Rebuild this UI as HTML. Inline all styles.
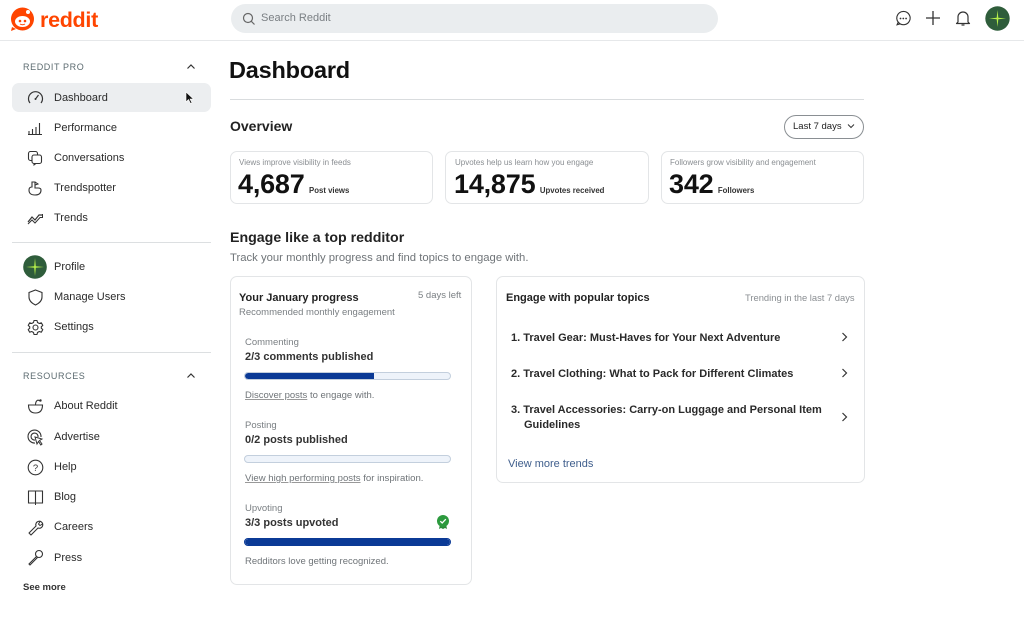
<!DOCTYPE html>
<html><head><meta charset="utf-8">
<style>
*{margin:0;padding:0;box-sizing:border-box}
body{width:1024px;height:643px;background:#fff;font-family:"Liberation Sans",Arial,sans-serif;color:#1a1a1b;position:relative;overflow:hidden}
.a{position:absolute;white-space:nowrap}
.side{font-size:11px;color:#2a2a2a;line-height:14px}
.ic{position:absolute}
.card{position:absolute;border:1px solid #e3e5e7;border-radius:7px;background:#fff}
.g{color:#6f7478}
.bar{position:absolute;left:244px;width:207px;height:8px;border-radius:4px;background:#eef3fa;border:1px solid #c3cfdd;overflow:hidden}
.fill{height:100%;background:#0b3a96;border-radius:4px 0 0 4px}
.u{text-decoration:underline;text-decoration-color:#999}
.t{font-size:11px;font-weight:bold;color:#2a2a2a;line-height:15px}
</style></head><body>

<!-- header -->
<div class="a" style="left:0;top:40px;width:1024px;height:1px;background:#e6e8ea"></div>
<svg class="ic" style="left:10px;top:7px" width="26" height="25" viewBox="0 0 26 25">
<circle cx="12.5" cy="12" r="11.5" fill="#ff4500"/>
<path d="M2 20 L1 24 L6 22 Z" fill="#ff4500"/>
<ellipse cx="12.5" cy="14.5" rx="7.5" ry="5.5" fill="#fff"/>
<circle cx="10" cy="14" r="1.3" fill="#ff4500"/><circle cx="15" cy="14" r="1.3" fill="#ff4500"/>
<path d="M10 17 Q12.5 18.5 15 17" stroke="#ff4500" stroke-width="1" fill="none"/>
<circle cx="18" cy="5" r="2" fill="#fff"/>
</svg>
<div class="a" style="left:40px;top:7px;font-size:21.5px;font-weight:bold;color:#ff4500;letter-spacing:-0.3px;line-height:26px">reddit</div>

<div class="a" style="left:231px;top:4px;width:487px;height:29px;border-radius:15px;background:#eaedef"></div>
<svg class="ic" style="left:242px;top:12px" width="14" height="14" viewBox="0 0 14 14"><circle cx="6" cy="6" r="4.5" stroke="#666" stroke-width="1.2" fill="none"/><path d="M9.3 9.3 L12.5 12.5" stroke="#666" stroke-width="1.2"/></svg>
<div class="a" style="left:261px;top:11px;font-size:11px;color:#7a7f83;line-height:14px">Search Reddit</div>

<svg class="ic" style="left:895px;top:10px" width="17" height="17" viewBox="0 0 17 17"><path d="M8.5 1.5 A7 7 0 1 1 3 12.8 L1.8 15.5 L5 14.6 A7 7 0 0 1 8.5 1.5" stroke="#333" stroke-width="1.2" fill="none" transform="scale(0.95) translate(0.4,0)"/><circle cx="5.5" cy="8.5" r="0.9" fill="#333"/><circle cx="8.3" cy="8.5" r="0.9" fill="#333"/><circle cx="11.1" cy="8.5" r="0.9" fill="#333"/></svg>
<svg class="ic" style="left:925px;top:10px" width="16" height="16" viewBox="0 0 16 16"><path d="M8 1 V15 M1 8 H15" stroke="#333" stroke-width="1.3"/></svg>
<svg class="ic" style="left:955px;top:9px" width="16" height="18" viewBox="0 0 16 18"><path d="M3 13 V8 A5 5 0 0 1 13 8 V13 L14.5 14.5 H1.5 Z" stroke="#333" stroke-width="1.2" fill="none" stroke-linejoin="round"/><path d="M6.5 16 H9.5" stroke="#333" stroke-width="1.2"/></svg>
<svg class="ic" style="left:985px;top:6px" width="25" height="25" viewBox="0 0 25 25"><circle cx="12.5" cy="12.5" r="12.2" fill="#2f5d3b"/><path d="M12.5 4 L13.3 11.7 L21 12.5 L13.3 13.3 L12.5 21 L11.7 13.3 L4 12.5 L11.7 11.7 Z" fill="#b6ef4a"/></svg>

<!-- sidebar -->
<div class="a" style="left:23px;top:61px;font-size:9px;color:#5c6b70;letter-spacing:0.6px;line-height:12px">REDDIT PRO</div>
<svg class="ic" style="left:186px;top:63px" width="10" height="7" viewBox="0 0 10 7"><path d="M1.5 5.5 L5 2 L8.5 5.5" stroke="#333" stroke-width="1.2" fill="none"/></svg>
<div class="a" style="left:12px;top:83px;width:199px;height:29px;border-radius:7px;background:#eceef0"></div>
<svg class="ic" style="left:185px;top:91px" width="10" height="14" viewBox="0 0 10 14"><path d="M1 1 L1 11 L3.5 8.5 L5.5 12.5 L7 11.8 L5 8 L8.5 8 Z" fill="#111" stroke="#fff" stroke-width="0.6"/></svg>

<svg class="ic" style="left:27px;top:90px" width="17" height="15" viewBox="0 0 17 15"><path d="M3 13 A7 7 0 1 1 14 13" stroke="#333" stroke-width="1.2" fill="none"/><path d="M8.5 9 L11.5 5" stroke="#333" stroke-width="1.2"/><circle cx="8.5" cy="9" r="1" fill="#333"/></svg>
<div class="a side" style="left:54px;top:91px">Dashboard</div>
<svg class="ic" style="left:27px;top:120px" width="16" height="15" viewBox="0 0 16 15"><path d="M2 14 V11 M5.5 14 V9 M9 14 V7 M12.5 14 V3 M1 14.5 H15" stroke="#333" stroke-width="1.1"/></svg>
<div class="a side" style="left:54px;top:121px">Performance</div>
<svg class="ic" style="left:27px;top:150px" width="16" height="16" viewBox="0 0 16 16"><rect x="1.5" y="1.5" width="9" height="9" rx="2" stroke="#333" stroke-width="1.1" fill="none"/><rect x="5" y="5" width="9.5" height="8.5" rx="2" stroke="#333" stroke-width="1.1" fill="#fff"/><path d="M7 13.5 L7 15 L9 13.5" stroke="#333" stroke-width="1" fill="none"/></svg>
<div class="a side" style="left:54px;top:151px">Conversations</div>
<svg class="ic" style="left:27px;top:180px" width="16" height="16" viewBox="0 0 16 16"><path d="M2 10 Q2 15 8 15 Q14 15 14 10 Q14 8 11 8 L8 8 L8 2 L5 2 L5 7 Q2 7 2 10 Z" stroke="#333" stroke-width="1.1" fill="none"/><path d="M8 2 L11 4 L8 5" stroke="#333" stroke-width="1" fill="none"/></svg>
<div class="a side" style="left:54px;top:181px">Trendspotter</div>
<svg class="ic" style="left:27px;top:211px" width="17" height="14" viewBox="0 0 17 14"><path d="M1 11 L5 6 L8 9 L12 4 L15 4" stroke="#333" stroke-width="1.2" fill="none"/><path d="M1 13 L5 9 L8 12 L13 6.5 L15.5 6.5 L15.5 3" stroke="#333" stroke-width="1" fill="none"/></svg>
<div class="a side" style="left:54px;top:211px">Trends</div>

<div class="a" style="left:12px;top:242px;width:199px;height:1px;background:#dcdfe1"></div>
<svg class="ic" style="left:23px;top:255px" width="24" height="24" viewBox="0 0 24 24"><circle cx="12" cy="12" r="11.8" fill="#2f5d3b"/><path d="M12 3 L12.8 11.2 L21 12 L12.8 12.8 L12 21 L11.2 12.8 L3 12 L11.2 11.2 Z" fill="#b6ef4a"/></svg>
<div class="a side" style="left:54px;top:260px">Profile</div>
<svg class="ic" style="left:28px;top:289px" width="15" height="17" viewBox="0 0 15 17"><path d="M7.5 1 L14 3.5 V8 Q14 13 7.5 16 Q1 13 1 8 V3.5 Z" stroke="#333" stroke-width="1.1" fill="none"/></svg>
<div class="a side" style="left:54px;top:290px">Manage Users</div>
<svg class="ic" style="left:27px;top:319px" width="17" height="17" viewBox="0 0 17 17"><circle cx="8.5" cy="8.5" r="2.5" stroke="#333" stroke-width="1.1" fill="none"/><path d="M7 1.5 H10 L10.5 3.5 L12.3 4.5 L14.3 3.8 L15.8 6.4 L14.3 7.8 V9.2 L15.8 10.6 L14.3 13.2 L12.3 12.5 L10.5 13.5 L10 15.5 H7 L6.5 13.5 L4.7 12.5 L2.7 13.2 L1.2 10.6 L2.7 9.2 V7.8 L1.2 6.4 L2.7 3.8 L4.7 4.5 L6.5 3.5 Z" stroke="#333" stroke-width="1.1" fill="none" stroke-linejoin="round"/></svg>
<div class="a side" style="left:54px;top:320px">Settings</div>

<div class="a" style="left:12px;top:352px;width:199px;height:1px;background:#dcdfe1"></div>
<div class="a" style="left:23px;top:370px;font-size:9px;color:#5c6b70;letter-spacing:0.6px;line-height:12px">RESOURCES</div>
<svg class="ic" style="left:186px;top:372px" width="10" height="7" viewBox="0 0 10 7"><path d="M1.5 5.5 L5 2 L8.5 5.5" stroke="#333" stroke-width="1.2" fill="none"/></svg>

<svg class="ic" style="left:27px;top:398px" width="17" height="16" viewBox="0 0 17 16"><path d="M1.5 7 H15.5 Q15.5 15 8.5 15 Q1.5 15 1.5 7 Z" stroke="#333" stroke-width="1.1" fill="none"/><path d="M8.5 7 Q8.5 3 11 2 M11 2 L13 3" stroke="#333" stroke-width="1.1" fill="none"/><circle cx="13.5" cy="2.5" r="1.2" fill="#333"/></svg>
<div class="a side" style="left:54px;top:399px">About Reddit</div>
<svg class="ic" style="left:27px;top:429px" width="17" height="17" viewBox="0 0 17 17"><path d="M8 14 A6.5 6.5 0 1 1 14 8" stroke="#333" stroke-width="1.1" fill="none"/><path d="M8 11 A3.5 3.5 0 1 1 11 8" stroke="#333" stroke-width="1.1" fill="none"/><path d="M8 8 L15 10 L12.5 11.5 L15 15 L13.8 16 L11.5 12.5 L10 15 Z" stroke="#333" stroke-width="1" fill="#fff"/></svg>
<div class="a side" style="left:54px;top:430px">Advertise</div>
<svg class="ic" style="left:27px;top:459px" width="17" height="17" viewBox="0 0 17 17"><circle cx="8.5" cy="8.5" r="7.3" stroke="#333" stroke-width="1.1" fill="none"/><text x="8.5" y="12" text-anchor="middle" font-size="9.5" font-family="Liberation Sans,sans-serif" fill="#333">?</text></svg>
<div class="a side" style="left:54px;top:460px">Help</div>
<svg class="ic" style="left:27px;top:489px" width="17" height="17" viewBox="0 0 17 17"><path d="M1.5 2 H8.5 V14 H1.5 Z M8.5 2 H15.5 V14 H8.5" stroke="#333" stroke-width="1.1" fill="none"/><path d="M8.5 14 V16" stroke="#333" stroke-width="1"/></svg>
<div class="a side" style="left:54px;top:490px">Blog</div>
<svg class="ic" style="left:27px;top:519px" width="17" height="17" viewBox="0 0 17 17"><path d="M2 14 L9 7 A3.5 3.5 0 1 1 11 9 L4 16 Z" stroke="#333" stroke-width="1.1" fill="none" stroke-linejoin="round"/><path d="M13 2.5 L11.5 5 L13 6.5 L15.5 5" stroke="#333" stroke-width="1" fill="none"/></svg>
<div class="a side" style="left:54px;top:520px">Careers</div>
<svg class="ic" style="left:27px;top:549px" width="17" height="18" viewBox="0 0 17 18"><circle cx="12" cy="5" r="3.5" stroke="#333" stroke-width="1.1" fill="none"/><path d="M9.5 7.5 L2 15 L3 16 L10.5 8.5" stroke="#333" stroke-width="1.1" fill="none"/></svg>
<div class="a side" style="left:54px;top:551px">Press</div>
<div class="a" style="left:23px;top:582px;font-size:9.5px;font-weight:bold;color:#333;line-height:12px">See more</div>

<!-- main -->
<div class="a" style="left:229px;top:56px;font-size:23.5px;font-weight:bold;color:#111;line-height:28px;letter-spacing:-0.2px">Dashboard</div>
<div class="a" style="left:230px;top:99px;width:634px;height:1px;background:#d9dcde"></div>
<div class="a" style="left:230px;top:117px;font-size:14px;font-weight:bold;color:#222;line-height:18px">Overview</div>
<div class="a" style="left:784px;top:115px;width:80px;height:24px;border:1px solid #8a8f93;border-radius:12px"></div>
<div class="a" style="left:793px;top:120px;font-size:9.5px;color:#222;line-height:13px">Last 7 days</div>
<svg class="ic" style="left:847px;top:123px" width="8" height="6" viewBox="0 0 8 6"><path d="M1 1.5 L4 4.5 L7 1.5" stroke="#333" stroke-width="1" fill="none"/></svg>

<div class="card" style="left:230px;top:151px;width:203px;height:53px"></div>
<div class="card" style="left:445px;top:151px;width:204px;height:53px"></div>
<div class="card" style="left:661px;top:151px;width:203px;height:53px"></div>
<div class="a g" style="left:239px;top:158px;font-size:8px;line-height:10px;color:#8a8e92">Views improve visibility in feeds</div>
<div class="a g" style="left:455px;top:158px;font-size:8px;line-height:10px;color:#8a8e92">Upvotes help us learn how you engage</div>
<div class="a g" style="left:670px;top:158px;font-size:8px;line-height:10px;color:#8a8e92">Followers grow visibility and engagement</div>
<div class="a" style="left:238px;top:170px;line-height:28px"><span style="font-size:27px;font-weight:bold;color:#111;letter-spacing:-0.2px">4,687</span> <span style="font-size:7.8px;font-weight:bold;color:#333">Post views</span></div>
<div class="a" style="left:454px;top:170px;line-height:28px"><span style="font-size:27px;font-weight:bold;color:#111;letter-spacing:-0.2px">14,875</span> <span style="font-size:7.8px;font-weight:bold;color:#333">Upvotes received</span></div>
<div class="a" style="left:669px;top:170px;line-height:28px"><span style="font-size:27px;font-weight:bold;color:#111;letter-spacing:-0.2px">342</span> <span style="font-size:7.8px;font-weight:bold;color:#333">Followers</span></div>

<div class="a" style="left:230px;top:229px;font-size:14.2px;font-weight:bold;color:#222;line-height:18px">Engage like a top redditor</div>
<div class="a" style="left:230px;top:251px;font-size:11.3px;color:#6f7478;line-height:14px">Track your monthly progress and find topics to engage with.</div>

<!-- progress card -->
<div class="card" style="left:230px;top:276px;width:242px;height:309px"></div>
<div class="a" style="left:239px;top:291px;font-size:11px;font-weight:bold;color:#222;line-height:14px">Your January progress</div>
<div class="a" style="left:418px;top:290px;font-size:9.5px;color:#7a7f83;line-height:12px">5 days left</div>
<div class="a" style="left:239px;top:307px;font-size:9.5px;color:#7a7f83;line-height:12px">Recommended monthly engagement</div>

<div class="a" style="left:245px;top:337px;font-size:9.5px;color:#7a7f83;line-height:12px">Commenting</div>
<div class="a" style="left:245px;top:350px;font-size:11px;font-weight:bold;color:#333;line-height:14px">2/3 comments published</div>
<div class="bar" style="top:372px"><div class="fill" style="width:129px"></div></div>
<div class="a" style="left:245px;top:390px;font-size:9.5px;color:#6f7478;line-height:12px"><span class="u">Discover posts</span> to engage with.</div>

<div class="a" style="left:245px;top:420px;font-size:9.5px;color:#7a7f83;line-height:12px">Posting</div>
<div class="a" style="left:245px;top:433px;font-size:11px;font-weight:bold;color:#333;line-height:14px">0/2 posts published</div>
<div class="bar" style="top:455px"></div>
<div class="a" style="left:245px;top:473px;font-size:9.6px;color:#6f7478;line-height:12px"><span class="u">View high performing posts</span> for inspiration.</div>

<div class="a" style="left:245px;top:503px;font-size:9.5px;color:#7a7f83;line-height:12px">Upvoting</div>
<div class="a" style="left:245px;top:516px;font-size:11px;font-weight:bold;color:#333;line-height:14px">3/3 posts upvoted</div>
<svg class="ic" style="left:436px;top:514px" width="14" height="16" viewBox="0 0 14 16"><path d="M4 10 L3 15 L5 14 L7 15 L9 14 L11 15 L10 10 Z" fill="#2c8a3a"/><circle cx="7" cy="7" r="6" fill="#2c9a3e"/><path d="M4.3 7.2 L6.2 9 L9.8 5.2" stroke="#fff" stroke-width="1.3" fill="none"/></svg>
<div class="bar" style="top:538px;border-color:#0b3a96"><div class="fill" style="width:100%;border-radius:4px"></div></div>
<div class="a" style="left:245px;top:556px;font-size:9.5px;color:#6f7478;line-height:12px">Redditors love getting recognized.</div>

<!-- topics card -->
<div class="card" style="left:496px;top:276px;width:369px;height:207px"></div>
<div class="a" style="left:506px;top:291px;font-size:11px;font-weight:bold;color:#222;line-height:14px">Engage with popular topics</div>
<div class="a" style="left:745px;top:292px;font-size:9.4px;color:#8a8e92;line-height:12px">Trending in the last 7 days</div>

<div class="a t" style="left:511px;top:331px">1. Travel Gear: Must-Haves for Your Next Adventure</div>
<div class="a t" style="left:511px;top:367px">2. Travel Clothing: What to Pack for Different Climates</div>
<div class="a t" style="left:511px;top:403px">3. Travel Accessories: Carry-on Luggage and Personal Item</div>
<div class="a t" style="left:524px;top:418px">Guidelines</div>
<svg class="ic" style="left:841px;top:332px" width="7" height="10" viewBox="0 0 7 10"><path d="M1.5 1 L5.5 5 L1.5 9" stroke="#333" stroke-width="1.2" fill="none"/></svg>
<svg class="ic" style="left:841px;top:368px" width="7" height="10" viewBox="0 0 7 10"><path d="M1.5 1 L5.5 5 L1.5 9" stroke="#333" stroke-width="1.2" fill="none"/></svg>
<svg class="ic" style="left:841px;top:412px" width="7" height="10" viewBox="0 0 7 10"><path d="M1.5 1 L5.5 5 L1.5 9" stroke="#333" stroke-width="1.2" fill="none"/></svg>
<div class="a" style="left:508px;top:457px;font-size:11px;color:#3f5e8c;line-height:14px">View more trends</div>

</body></html>
